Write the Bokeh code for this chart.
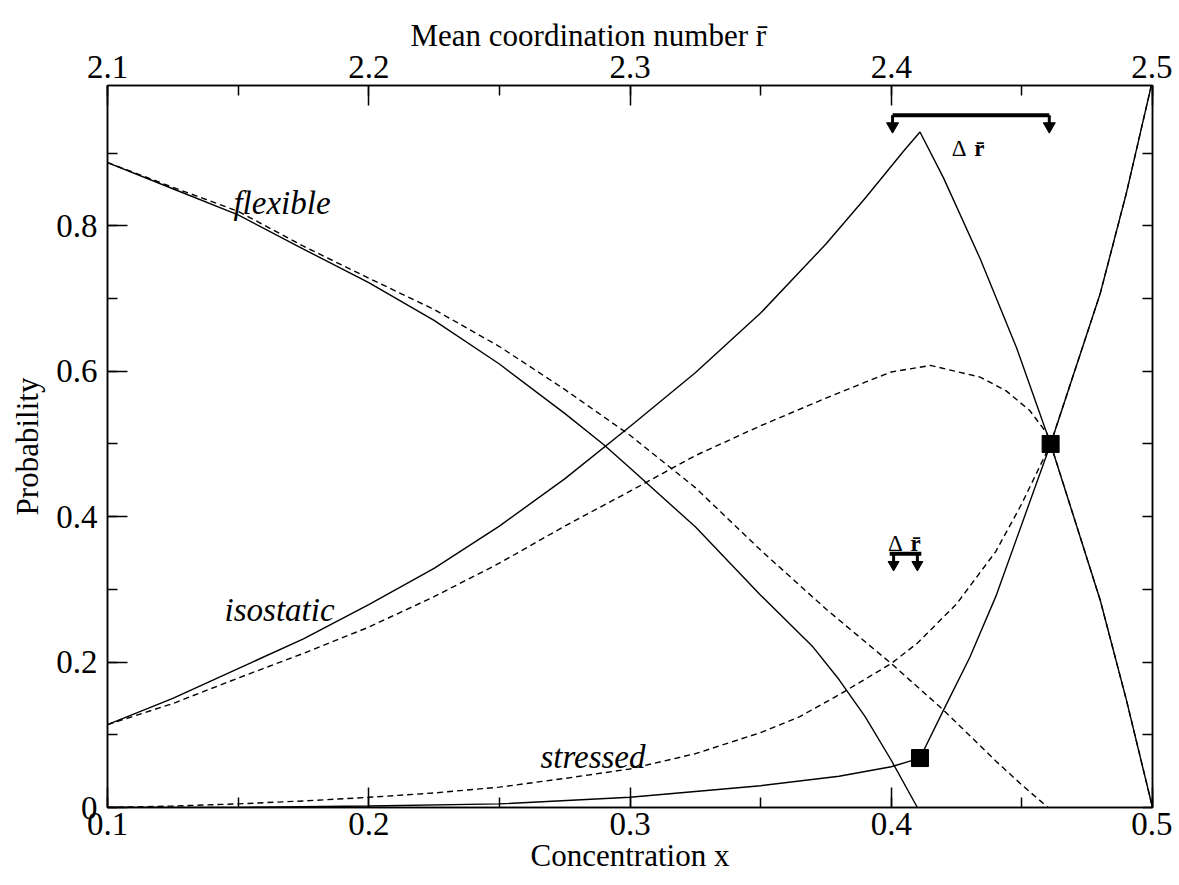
from bokeh.plotting import figure
from bokeh.models import Range1d, LinearAxis, SingleIntervalTicker, CustomJSTickFormatter, Label, Title
from bokeh.embed import file_html
from bokeh.resources import INLINE

# ---------------- data ----------------
flex_solid_x = [0.10, 0.125, 0.15, 0.175, 0.20, 0.225, 0.25, 0.275, 0.29, 0.30, 0.325, 0.35, 0.37, 0.38, 0.39, 0.40, 0.41]
flex_solid_y = [0.887, 0.851, 0.815, 0.768, 0.722, 0.670, 0.610, 0.542, 0.499, 0.467, 0.386, 0.292, 0.221, 0.176, 0.125, 0.065, 0.0]

flex_dash_x = [0.10, 0.125, 0.15, 0.175, 0.20, 0.225, 0.25, 0.275, 0.30, 0.325, 0.35, 0.375, 0.40, 0.42, 0.44, 0.45, 0.46]
flex_dash_y = [0.887, 0.853, 0.820, 0.772, 0.728, 0.685, 0.634, 0.575, 0.512, 0.440, 0.354, 0.273, 0.198, 0.134, 0.064, 0.031, 0.0]

iso_solid_x = [0.10, 0.125, 0.15, 0.175, 0.20, 0.225, 0.25, 0.275, 0.30, 0.325, 0.35, 0.375, 0.39, 0.405, 0.411,
               0.42, 0.434, 0.448, 0.461, 0.48, 0.49, 0.50]
iso_solid_y = [0.114, 0.150, 0.191, 0.232, 0.279, 0.329, 0.387, 0.452, 0.524, 0.598, 0.680, 0.775, 0.838, 0.904, 0.929,
               0.866, 0.755, 0.632, 0.500, 0.285, 0.148, 0.0]

iso_dash_x = [0.10, 0.125, 0.15, 0.175, 0.20, 0.225, 0.25, 0.275, 0.30, 0.325, 0.35, 0.375, 0.39, 0.40, 0.415,
              0.434, 0.444, 0.453, 0.4597, 0.461, 0.48, 0.49, 0.50]
iso_dash_y = [0.114, 0.143, 0.178, 0.212, 0.248, 0.290, 0.336, 0.387, 0.435, 0.484, 0.525, 0.563, 0.585, 0.599, 0.608,
              0.592, 0.573, 0.546, 0.514, 0.500, 0.285, 0.148, 0.0]

str_solid_x = [0.10, 0.15, 0.20, 0.25, 0.30, 0.35, 0.38, 0.40, 0.411, 0.42, 0.43, 0.44, 0.45, 0.461, 0.48, 0.49, 0.50]
str_solid_y = [0.0, 0.0, 0.002, 0.005, 0.014, 0.030, 0.043, 0.056, 0.068, 0.134, 0.206, 0.290, 0.390, 0.500, 0.707, 0.845, 1.0]

str_dash_x = [0.10, 0.125, 0.15, 0.175, 0.20, 0.225, 0.25, 0.275, 0.30, 0.325, 0.35, 0.365, 0.38, 0.40, 0.41, 0.425,
              0.44, 0.45, 0.461, 0.48, 0.49, 0.50]
str_dash_y = [0.0, 0.002, 0.005, 0.009, 0.014, 0.020, 0.028, 0.040, 0.053, 0.074, 0.103, 0.125, 0.155, 0.198, 0.226, 0.280,
              0.352, 0.418, 0.500, 0.707, 0.845, 1.0]

# transition points (squares)
trans_x = [0.411, 0.461]
trans_y = [0.068, 0.500]

# delta r bars (x ends, bar level, arrow level)
delta_top_x = [0.4005, 0.4605]
delta_top_bar_y = 0.952
delta_top_arrow_y = 0.937
delta_mid_x = [0.4009, 0.4100]
delta_mid_bar_y = 0.349
delta_mid_arrow_y = 0.334

bottom_title = "Concentration x"
left_title = "Probability"
top_title = "Mean coordination number  r\u0304"

FONT = "Liberation Serif"

p = figure(frame_width=1045, frame_height=722, output_backend="svg", toolbar_location=None,
           x_range=Range1d(0.1, 0.5), y_range=Range1d(0.0, 0.993),
           x_axis_label=bottom_title, y_axis_label=left_title,
           min_border_left=107, min_border_right=20, min_border_top=85, min_border_bottom=70)
p.grid.visible = False
p.outline_line_color = "black"
p.outline_line_width = 1.5
p.background_fill_color = "white"
p.border_fill_color = "white"

bottom = p.below[0]
left = p.left[0]

p.extra_x_ranges = {"r": Range1d(2.1, 2.5)}
top = LinearAxis(x_range_name="r")
p.add_layout(top, "above")
p.add_layout(Title(text=top_title, align="left", offset=303, standoff=0,
                   text_font=FONT, text_font_size="31px", text_font_style="normal",
                   text_color="black"), "above")
right = LinearAxis(formatter=CustomJSTickFormatter(code="return ''"))
p.add_layout(right, "right")

bottom.ticker = SingleIntervalTicker(interval=0.1, num_minor_ticks=2)
top.ticker = SingleIntervalTicker(interval=0.1, num_minor_ticks=2)
left.ticker = SingleIntervalTicker(interval=0.2, num_minor_ticks=2)
right.ticker = SingleIntervalTicker(interval=0.1, num_minor_ticks=0)

for ax in [bottom, top, left, right]:
    ax.axis_line_width = 1.5
    ax.major_tick_line_width = 1.5
    ax.minor_tick_line_width = 1.5
    ax.major_tick_out = 0
    ax.minor_tick_out = 0
    ax.major_tick_in = 20
    ax.minor_tick_in = 10
    ax.major_label_text_font = FONT
    ax.major_label_text_font_size = "33px"
    ax.major_label_text_color = "black"
    ax.axis_label_text_font = FONT
    ax.axis_label_text_font_size = "31px"
    ax.axis_label_text_font_style = "normal"
    ax.axis_label_text_color = "black"
    ax.major_label_standoff = 8
    ax.axis_label_standoff = 4
right.major_tick_in = 10
right.major_label_standoff = 0
right.axis_label_standoff = 0
left.major_label_standoff = 10
left.axis_label_standoff = 8
top.major_label_standoff = 8
bottom.major_label_standoff = 5
bottom.axis_label_standoff = 0

lw = 1.4
p.line(flex_solid_x, flex_solid_y, line_color="black", line_width=lw)
p.line(flex_dash_x, flex_dash_y, line_color="black", line_width=lw, line_dash="6 4")
p.line(iso_solid_x, iso_solid_y, line_color="black", line_width=lw)
p.line(iso_dash_x, iso_dash_y, line_color="black", line_width=lw, line_dash="6 4")
p.line(str_solid_x, str_solid_y, line_color="black", line_width=lw)
p.line(str_dash_x, str_dash_y, line_color="black", line_width=lw, line_dash="6 4")

p.scatter(trans_x, trans_y, marker="square", size=17, color="black")

# delta r bars
p.segment(x0=[delta_top_x[0]], y0=[delta_top_bar_y], x1=[delta_top_x[1]], y1=[delta_top_bar_y],
          line_color="black", line_width=4)
p.segment(x0=delta_top_x, y0=[delta_top_bar_y] * 2, x1=delta_top_x, y1=[delta_top_arrow_y] * 2,
          line_color="black", line_width=3)
p.scatter(delta_top_x, [delta_top_arrow_y] * 2, marker="inverted_triangle", size=12, color="black")

p.segment(x0=[delta_mid_x[0] - 0.0015], y0=[delta_mid_bar_y], x1=[delta_mid_x[1] + 0.0015], y1=[delta_mid_bar_y],
          line_color="black", line_width=4)
p.segment(x0=delta_mid_x, y0=[delta_mid_bar_y] * 2, x1=delta_mid_x, y1=[delta_mid_arrow_y] * 2,
          line_color="black", line_width=3)
p.scatter(delta_mid_x, [delta_mid_arrow_y] * 2, marker="inverted_triangle", size=11, color="black")


def lab(x, y, t, size, style="italic", align="left"):
    p.add_layout(Label(x=x, y=y, text=t, text_font=FONT, text_font_size=size,
                       text_font_style=style, text_color="black",
                       text_baseline="alphabetic", text_align=align))


lab(0.1482, 0.831, "flexible", "33px")
lab(0.1448, 0.271, "isostatic", "33px")
lab(0.2657, 0.0696, "stressed", "33px")
lab(0.4232, 0.906, "\u0394", "23px", "normal")
lab(0.4318, 0.906, "r\u0304", "23px", "bold")
lab(0.3988, 0.3625, "\u0394", "23px", "normal")
lab(0.4074, 0.3625, "r\u0304", "23px", "bold")

open("out.html", "w").write(file_html(p, INLINE))
